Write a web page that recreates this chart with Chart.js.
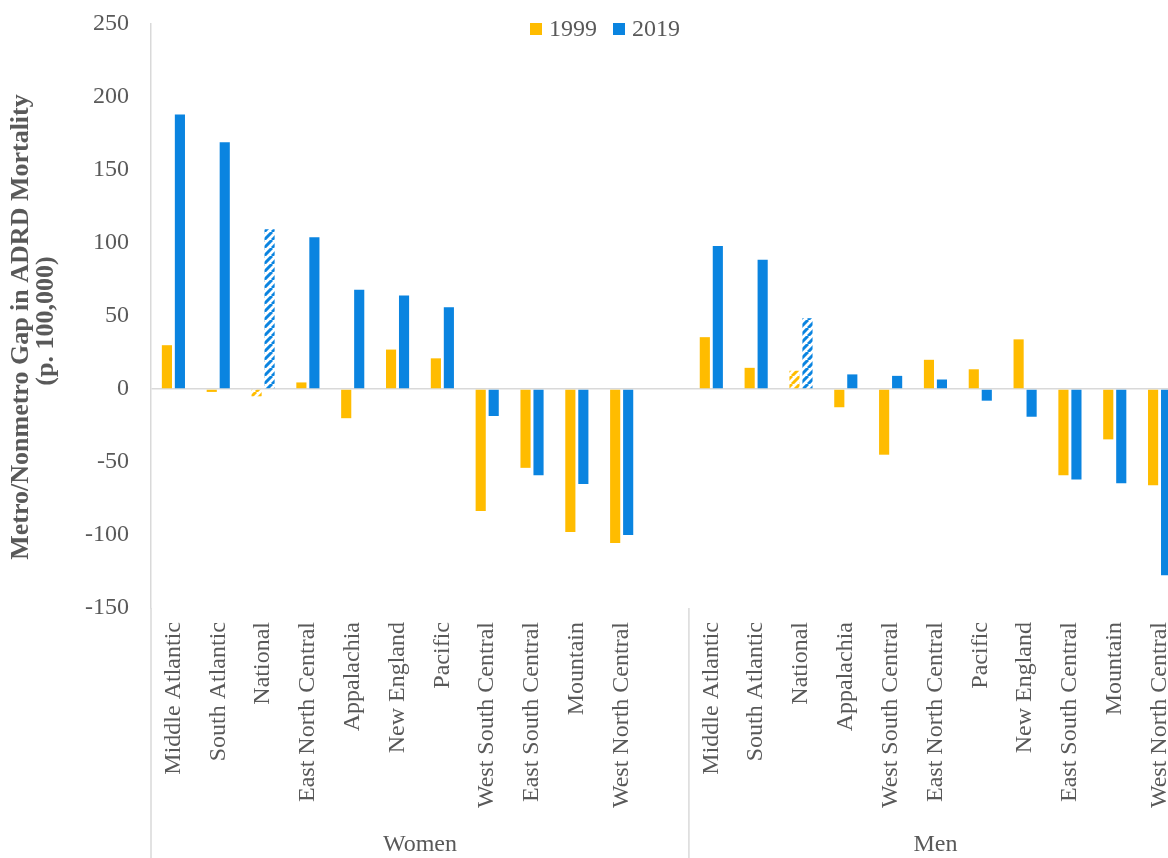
<!DOCTYPE html>
<html>
<head>
<meta charset="utf-8">
<title>Metro/Nonmetro Gap in ADRD Mortality</title>
<script src="https://cdn.jsdelivr.net/npm/chart.js@4.4.1/dist/chart.umd.min.js"></script>
<style>
    html, body {
        margin: 0;
        padding: 0;
        background: #ffffff;
        overflow: hidden;
    }
    #chartWrap {
        width: 1190px;
        height: 858px;
    }
    canvas {
        display: block;
    }
</style>
</head>
<body>
<div id="chartWrap">
    <canvas id="gapChart" width="1190" height="858"></canvas>
</div>
<script>
// Regions in the order they appear within each group
const womenRegions = ['Middle Atlantic', 'South Atlantic', 'National', 'East North Central', 'Appalachia',
    'New England', 'Pacific', 'West South Central', 'East South Central', 'Mountain', 'West North Central'];
const menRegions = ['Middle Atlantic', 'South Atlantic', 'National', 'Appalachia', 'West South Central',
    'East North Central', 'Pacific', 'New England', 'East South Central', 'Mountain', 'West North Central'];

// Metro minus nonmetro ADRD mortality per 100,000
const women1999 = [30, -2, -5, 4.5, -20, 27, 21, -83.5, -54, -98, -105.5];
const women2019 = [188, 169, 109.5, 104, 68, 64, 56, -18.5, -59, -65, -100];
const men1999 = [35.5, 14.5, 12.5, -12.5, -45, 20, 13.5, 34, -59, -34.5, -66];
const men2019 = [98, 88.5, 48.5, 10, 9, 6.5, -8, -19, -62, -64.5, -127.5];

const yearLabels = ['1999', '2019'];
const groupLabels = ['Women', 'Men'];
const yTicks = [-150, -100, -50, 0, 50, 100, 150, 200, 250];

const COLOR_1999 = '#FFBC00';
const COLOR_2019 = '#0A84E0';
const AXIS_GRAY = '#d9d9d9';
const TEXT_GRAY = '#595959';
const SERIF = '"Liberation Serif", "Times New Roman", serif';

// one empty slot closes the women group
const labels = womenRegions.concat([''], menRegions);
const data1999 = women1999.concat([null], men1999);
const data2019 = women2019.concat([null], men2019);

function stripePattern(color) {
    const size = 8;
    const c = document.createElement('canvas');
    c.width = size;
    c.height = size;
    const g = c.getContext('2d');
    g.strokeStyle = color;
    g.lineWidth = 3;
    g.beginPath();
    for (let k = -1; k <= 1; k++) {
        g.moveTo(k * size, size);
        g.lineTo(k * size + size, 0);
    }
    g.stroke();
    return g.createPattern(c, 'repeat');
}

function fills(color) {
    const pattern = stripePattern(color);
    return labels.map(name => name === 'National' ? pattern : color);
}

// legend, y title, group labels and the category separators
const decorations = {
    id: 'decorations',
    afterDraw(chart) {
        const ctx = chart.ctx;
        const area = chart.chartArea;
        const xScale = chart.scales.x;
        const bottom = chart.height;

        ctx.save();
        ctx.strokeStyle = AXIS_GRAY;
        ctx.lineWidth = 1.5;
        const womenEnd = (xScale.getPixelForValue(11) + xScale.getPixelForValue(12)) / 2;
        [area.left, womenEnd, area.right].forEach(x => {
            ctx.beginPath();
            ctx.moveTo(x, area.bottom);
            ctx.lineTo(x, bottom);
            ctx.stroke();
        });

        ctx.fillStyle = TEXT_GRAY;
        ctx.font = '24px ' + SERIF;
        ctx.textAlign = 'center';
        ctx.textBaseline = 'middle';
        ctx.fillText(groupLabels[0], (area.left + womenEnd) / 2, 845);
        ctx.fillText(groupLabels[1], (womenEnd + area.right) / 2, 845);

        // legend
        ctx.textAlign = 'left';
        const legendItems = [
            { text: yearLabels[0], color: COLOR_1999, x: 530 },
            { text: yearLabels[1], color: COLOR_2019, x: 613 }
        ];
        legendItems.forEach(item => {
            ctx.fillStyle = item.color;
            ctx.fillRect(item.x, 23, 12, 12);
            ctx.fillStyle = TEXT_GRAY;
            ctx.fillText(item.text, item.x + 19, 30);
        });

        // y axis title, two lines
        ctx.font = 'bold 26px ' + SERIF;
        ctx.textAlign = 'center';
        ctx.translate(21, 327);
        ctx.rotate(-Math.PI / 2);
        ctx.fillText('Metro/Nonmetro Gap in ADRD Mortality', 0, 0);
        ctx.fillText('(p. 100,000)', 6, 25);
        ctx.restore();
    }
};

const chart = new Chart(document.getElementById('gapChart'), {
    type: 'bar',
    data: {
        labels: labels,
        datasets: [
            {
                label: yearLabels[0],
                data: data1999,
                backgroundColor: fills(COLOR_1999),
                categoryPercentage: 0.58,
                barPercentage: 0.78
            },
            {
                label: yearLabels[1],
                data: data2019,
                backgroundColor: fills(COLOR_2019),
                categoryPercentage: 0.58,
                barPercentage: 0.78
            }
        ]
    },
    options: {
        responsive: false,
        animation: false,
        layout: {
            padding: { top: 24, left: 0, right: 8, bottom: 0 }
        },
        plugins: {
            legend: { display: false },
            tooltip: { enabled: false }
        },
        scales: {
            x: {
                grid: { display: false, drawTicks: false },
                border: { display: false },
                ticks: {
                    autoSkip: false,
                    maxRotation: 90,
                    minRotation: 90,
                    padding: 14,
                    color: TEXT_GRAY,
                    font: { family: SERIF, size: 24 }
                },
                afterFit(scale) {
                    scale.height = 250;
                    scale.paddingLeft = 0;
                    scale.paddingRight = 0;
                }
            },
            y: {
                min: yTicks[0],
                max: yTicks[yTicks.length - 1],
                grid: {
                    drawTicks: false,
                    lineWidth: 1.5,
                    color: ctx => ctx.tick && ctx.tick.value === 0 ? AXIS_GRAY : 'rgba(0,0,0,0)'
                },
                border: { display: true, color: AXIS_GRAY, width: 1.5 },
                afterBuildTicks(scale) {
                    scale.ticks = yTicks.map(v => ({ value: v }));
                },
                ticks: {
                    padding: 22,
                    color: TEXT_GRAY,
                    font: { family: SERIF, size: 24 }
                },
                afterFit(scale) {
                    scale.width = 151;
                    scale.paddingTop = 0;
                    scale.paddingBottom = 0;
                }
            }
        }
    },
    plugins: [decorations]
});
</script>
</body>
</html>
